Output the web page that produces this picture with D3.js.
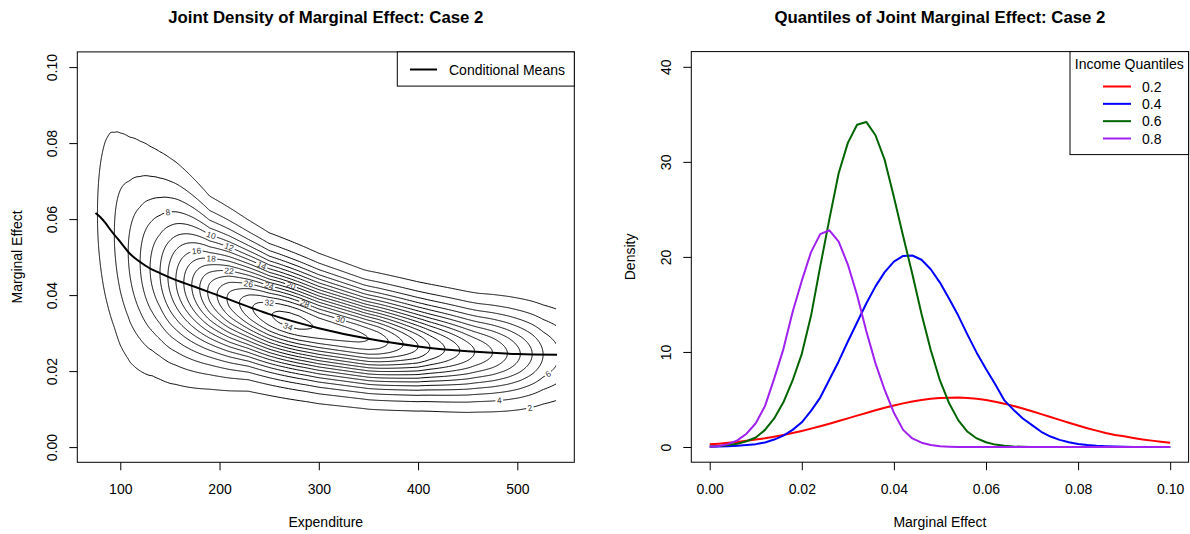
<!DOCTYPE html>
<html>
<head>
<meta charset="utf-8">
<script src="https://cdn.jsdelivr.net/npm/d3@7"></script>
<style>
  body { margin: 0; background: #fff; }
  svg { display: block; font-family: "Liberation Sans", Arial, Helvetica, sans-serif; }
</style>
</head>
<body>
<div id="chart"></div>
<script>
// ---------- left panel data ----------
// conditional means line
var meanX = [75, 80, 85, 90, 100, 110, 120, 130, 140, 150, 175, 200, 250, 300, 350, 400, 450, 500, 540];
var meanY = [0.0616, 0.0605, 0.0590, 0.0572, 0.0540, 0.0508, 0.0487, 0.0470, 0.0458, 0.0446, 0.0422, 0.0398, 0.0350, 0.0313, 0.0285, 0.0265, 0.0252, 0.0245, 0.0243];

// height of the density ridge along expenditure
var ridgeX = [70, 77, 85, 94, 100, 108, 120, 130, 140, 150, 160, 170, 180, 190, 200, 210, 220, 230, 240, 250,
              260, 270, 280, 290, 300, 320, 340, 350, 360, 370, 385, 400, 412, 427, 442, 457, 475, 490, 503, 515, 526, 540];
var ridgePeak = [0, 2, 3, 4, 4.9, 6, 8, 10, 12, 14.5, 17, 19.5, 22, 24.5, 26.5, 28.5, 30, 31.6, 32.8, 33.8,
                 34.5, 34.8, 34.7, 34.2, 33.7, 33.1, 32.5, 32, 31.2, 30, 28, 26, 24, 22, 20, 18, 16, 14, 12, 10, 8, 6.3];

// spread of the density above / below the ridge
var spreadX  = [75, 90, 100, 120, 132, 156, 190, 229, 250, 287, 345, 403, 461, 499, 540];
var spreadHi = [0.024, 0.0238, 0.0214, 0.0191, 0.0177, 0.0152, 0.0113, 0.0097, 0.0090, 0.0085, 0.0076, 0.0075, 0.0074, 0.0077, 0.0079];
var spreadLo = [0.022, 0.021, 0.0203, 0.0172, 0.0154, 0.0135, 0.0114, 0.0095, 0.0090, 0.0085, 0.0079, 0.0075, 0.0076, 0.0077, 0.0079];

var levels = [2, 4, 6, 8, 10, 12, 14, 16, 18, 20, 22, 24, 26, 28, 30, 32, 34];

// where the contour labels sit
var labLevel = [2, 4, 6, 8, 10, 12, 14, 16, 18, 20, 22, 24, 26, 28, 30, 32, 34];
var labX     = [512.7, 481.8, 531, 148, 191.5, 209.6, 242.5, 176.8, 191.5, 272, 209.6, 250, 229, 286, 321.6, 250, 269];
var labSide  = ["lo", "lo", "lo", "hi", "hi", "hi", "hi", "hi", "hi", "hi", "hi", "hi", "hi", "hi", "hi", "hi", "lo"];

var expTicks = [100, 200, 300, 400, 500];
var meTicks = [0, 0.02, 0.04, 0.06, 0.08, 0.10];

// ---------- right panel data ----------
var quantNames = ["0.2", "0.4", "0.6", "0.8"];
var quantColors = ["#ff0000", "#0000ff", "#006400", "#a020f0"];
// densities at marginal effect 0, 0.002, ..., 0.100
var q20 = [0.28, 0.35, 0.44, 0.53, 0.66, 0.78, 0.91, 1.08, 1.27, 1.47, 1.69, 1.93, 2.18, 2.45, 2.73, 3.01, 3.30, 3.58, 3.86, 4.12,
           4.37, 4.59, 4.78, 4.95, 5.07, 5.15, 5.19, 5.2, 5.16, 5.07, 4.95, 4.77, 4.56, 4.32, 4.05, 3.76, 3.46, 3.15, 2.85, 2.55,
           2.26, 1.98, 1.72, 1.48, 1.27, 1.12, 0.95, 0.8, 0.67, 0.55, 0.45];
var q40 = [0.02, 0.04, 0.07, 0.12, 0.2, 0.3, 0.48, 0.78, 1.2, 1.8, 2.6, 3.8, 5.2, 7.1, 9.0, 11.1, 13.1, 15.1, 16.9, 18.4,
           19.5, 20.1, 20.15, 19.7, 18.7, 17.3, 15.6, 13.8, 11.8, 9.9, 8.2, 6.6, 4.9, 3.9, 3.0, 2.3, 1.6, 1.1, 0.75, 0.5,
           0.32, 0.2, 0.12, 0.07, 0.04, 0.02, 0.01, 0, 0, 0, 0];
var q60 = [0.05, 0.1, 0.2, 0.35, 0.6, 1.0, 1.8, 3.0, 4.7, 7.0, 9.8, 13.8, 19.0, 24.0, 28.8, 32.0, 33.9, 34.2, 32.8, 30.2,
           26.3, 22.2, 18.2, 14.0, 10.2, 7.0, 4.6, 2.8, 1.6, 0.9, 0.5, 0.25, 0.12, 0.05, 0.02, 0, 0, 0, 0, 0,
           0, 0, 0, 0, 0, 0, 0, 0, 0, 0, 0];
var q80 = [0.02, 0.1, 0.3, 0.7, 1.4, 2.5, 4.3, 7.2, 10.3, 14.2, 17.5, 20.5, 22.4, 22.8, 21.6, 19.2, 16.0, 12.2, 8.8, 6.0,
           3.6, 1.8, 0.9, 0.45, 0.2, 0.08, 0.03, 0, 0, 0, 0, 0, 0, 0, 0, 0, 0, 0, 0, 0,
           0, 0, 0, 0, 0, 0, 0, 0, 0, 0, 0];
var densTicks = [0, 10, 20, 30, 40];

var W = 1190, H = 534;
var fontBase = 14;

var svg = d3.select("#chart").append("svg")
    .attr("width", W)
    .attr("height", H);
var defs = svg.append("defs");

// ================= left panel =================
var xL = d3.scaleLinear().domain([56.7, 557.4]).range([77.3, 574.3]);
var yL = d3.scaleLinear().domain([-0.004, 0.104]).range([462.3, 51.9]);

var peakAt = d3.scaleLinear().domain(ridgeX).range(ridgePeak).clamp(true);
var modeAt = d3.scaleLinear().domain(meanX).range(meanY).clamp(true);
var hiAt = d3.scaleLinear().domain(spreadX).range(spreadHi).clamp(true);
var loAt = d3.scaleLinear().domain(spreadX).range(spreadLo).clamp(true);

function dens(x, y) {
  var m = modeAt(x);
  var s = y >= m ? hiAt(x) : loAt(x);
  var z = (y - m) / s;
  return peakAt(x) * Math.exp(-0.5 * z * z);
}

// density grid for the contours
var gx0 = 60, gx1 = 548, gdx = 1;
var gy0 = 0, gy1 = 0.1, gdy = 0.0002;
var nx = Math.round((gx1 - gx0) / gdx) + 1;
var ny = Math.round((gy1 - gy0) / gdy) + 1;
var grid = new Float64Array(nx * ny);
for (var j = 0; j < ny; j++) {
  for (var i = 0; i < nx; i++) {
    grid[j * nx + i] = dens(gx0 + i * gdx, gy0 + j * gdy);
  }
}
var contours = d3.contours().size([nx, ny]).thresholds(levels)(grid);

var gridProj = d3.geoTransform({
  point: function(cx, cy) {
    this.stream.point(xL(gx0 + (cx - 0.5) * gdx), yL(gy0 + (cy - 0.5) * gdy));
  }
});
var contourPath = d3.geoPath(gridProj);

defs.append("clipPath").attr("id", "gridClip")
  .append("rect")
    .attr("x", xL(60)).attr("y", 52)
    .attr("width", xL(539) - xL(60)).attr("height", 410);

// label positions on their contour, angle from the local gradient
var labels = labLevel.map(function(L, k) {
  var x = labX[k];
  var m = modeAt(x), p = peakAt(x);
  var s = labSide[k] == "hi" ? hiAt(x) : loAt(x);
  var off = s * Math.sqrt(2 * Math.log(p / L));
  var y = labSide[k] == "hi" ? m + off : m - off;
  var px = xL(x), py = yL(y);
  var fxp = dens(xL.invert(px + 1), yL.invert(py)) - dens(xL.invert(px - 1), yL.invert(py));
  var fyp = dens(xL.invert(px), yL.invert(py + 1)) - dens(xL.invert(px), yL.invert(py - 1));
  var ang = Math.atan2(fxp, -fyp) * 180 / Math.PI;
  if (ang > 90) ang -= 180;
  if (ang < -90) ang += 180;
  return {level: L, px: px, py: py, angle: ang, text: String(L)};
});

var labSize = 8.4;
labels.forEach(function(d) {
  var w = d.text.length * labSize * 0.556 + 3;
  var mask = defs.append("mask").attr("id", "lab" + d.level)
      .attr("maskUnits", "userSpaceOnUse")
      .attr("x", 0).attr("y", 0).attr("width", W).attr("height", H);
  mask.append("rect").attr("x", 0).attr("y", 0).attr("width", W).attr("height", H).attr("fill", "#fff");
  mask.append("rect")
      .attr("x", -w / 2).attr("y", -4.5).attr("width", w).attr("height", 9)
      .attr("fill", "#000")
      .attr("transform", "translate(" + d.px + "," + d.py + ") rotate(" + d.angle + ")");
});

var gC = svg.append("g").attr("clip-path", "url(#gridClip)");
gC.selectAll("path.contour")
  .data(contours)
  .enter().append("path")
    .attr("class", "contour")
    .attr("d", contourPath)
    .attr("fill", "none")
    .attr("stroke", "#000")
    .attr("stroke-width", 1)
    .attr("mask", function(d) { return labLevel.indexOf(d.value) >= 0 ? "url(#lab" + d.value + ")" : null; });

svg.append("g").selectAll("text")
  .data(labels)
  .enter().append("text")
    .attr("transform", function(d) { return "translate(" + d.px + "," + d.py + ") rotate(" + d.angle + ")"; })
    .attr("text-anchor", "middle")
    .attr("dy", "0.35em")
    .attr("font-size", labSize)
    .attr("fill", "#333")
    .text(function(d) { return d.text; });

// conditional means
svg.append("path")
  .datum(meanX.map(function(x, k) { return [x, meanY[k]]; }))
  .attr("fill", "none")
  .attr("stroke", "#000")
  .attr("stroke-width", 2)
  .attr("d", d3.line().x(function(d) { return xL(d[0]); }).y(function(d) { return yL(d[1]); }).curve(d3.curveMonotoneX));

// ================= right panel =================
var xR = d3.scaleLinear().domain([-0.004, 0.104]).range([691.3, 1188.6]);
var yR = d3.scaleLinear().domain([-1.6, 41.6]).range([462.2, 51.6]);
var meGrid = q20.map(function(v, k) { return k * 0.002; });
var series = [q20, q40, q60, q80];

var lineR = d3.line()
  .x(function(d, k) { return xR(meGrid[k]); })
  .y(function(d) { return yR(d); });

svg.append("g").selectAll("path")
  .data(series)
  .enter().append("path")
    .attr("fill", "none")
    .attr("stroke", function(d, k) { return quantColors[k]; })
    .attr("stroke-width", 2)
    .attr("stroke-linejoin", "round")
    .attr("d", lineR);

// ================= frames, axes, titles =================
function frame(xs, ys) {
  svg.append("rect")
    .attr("x", xs.range()[0]).attr("y", ys.range()[1])
    .attr("width", xs.range()[1] - xs.range()[0])
    .attr("height", ys.range()[0] - ys.range()[1])
    .attr("fill", "none").attr("stroke", "#000").attr("stroke-width", 1);
}
frame(xL, yL);
frame(xR, yR);

function bottomAxis(xs, ys, ticks, fmt) {
  var g = svg.append("g")
    .attr("transform", "translate(0," + ys.range()[0] + ")")
    .call(d3.axisBottom(xs).tickValues(ticks).tickFormat(fmt).tickSizeOuter(0).tickSize(8));
  g.select(".domain").remove();
  g.selectAll("text").attr("y", 32).attr("dy", 0)
    .attr("font-size", fontBase).attr("font-family", null).attr("fill", "#000");
}
function leftAxis(xs, ys, ticks, fmt) {
  var g = svg.append("g")
    .attr("transform", "translate(" + xs.range()[0] + ",0)")
    .call(d3.axisLeft(ys).tickValues(ticks).tickFormat(fmt).tickSizeOuter(0).tickSize(8));
  g.select(".domain").remove();
  g.selectAll("text")
    .attr("x", null).attr("dy", 0).attr("text-anchor", "middle")
    .attr("transform", "translate(-20.5,0) rotate(-90)")
    .attr("font-size", fontBase).attr("font-family", null).attr("fill", "#000");
}
bottomAxis(xL, yL, expTicks, d3.format("d"));
leftAxis(xL, yL, meTicks, d3.format(".2f"));
bottomAxis(xR, yR, meTicks, d3.format(".2f"));
leftAxis(xR, yR, densTicks, d3.format("d"));

function titles(xs, main, xlab, ylab, ylabX) {
  var cx = (xs.range()[0] + xs.range()[1]) / 2;
  svg.append("text").attr("x", cx).attr("y", 22.5)
    .attr("text-anchor", "middle").attr("font-weight", "bold").attr("font-size", 16.8)
    .text(main);
  svg.append("text").attr("x", cx).attr("y", 526.5)
    .attr("text-anchor", "middle").attr("font-size", fontBase)
    .text(xlab);
  svg.append("text")
    .attr("transform", "translate(" + ylabX + "," + 256.9 + ") rotate(-90)")
    .attr("text-anchor", "middle").attr("font-size", fontBase)
    .text(ylab);
}
titles(xL, "Joint Density of Marginal Effect: Case 2", "Expenditure", "Marginal Effect", 21.5);
titles(xR, "Quantiles of Joint Marginal Effect: Case 2", "Marginal Effect", "Density", 634.5);

// ================= legends =================
var legL = svg.append("g");
legL.append("rect").attr("x", 397.3).attr("y", 51.9).attr("width", 574.3 - 397.3).attr("height", 34.2)
  .attr("fill", "#fff").attr("stroke", "#000");
legL.append("line").attr("x1", 410).attr("x2", 437).attr("y1", 69.5).attr("y2", 69.5)
  .attr("stroke", "#000").attr("stroke-width", 2);
legL.append("text").attr("x", 449).attr("y", 74.5).attr("font-size", fontBase).text("Conditional Means");

var legR = svg.append("g");
legR.append("rect").attr("x", 1070).attr("y", 51.6).attr("width", 1188.6 - 1070).attr("height", 103)
  .attr("fill", "#fff").attr("stroke", "#000");
legR.append("text").attr("x", 1129.3).attr("y", 69).attr("text-anchor", "middle")
  .attr("font-size", fontBase).text("Income Quantiles");
var legRow = d3.scalePoint().domain(quantNames).range([86.5, 138.5]);
quantNames.forEach(function(q, k) {
  legR.append("line").attr("x1", 1103).attr("x2", 1131)
    .attr("y1", legRow(q)).attr("y2", legRow(q))
    .attr("stroke", quantColors[k]).attr("stroke-width", 2);
  legR.append("text").attr("x", 1142).attr("y", legRow(q) + 5)
    .attr("font-size", fontBase).text(q);
});
</script>
</body>
</html>
